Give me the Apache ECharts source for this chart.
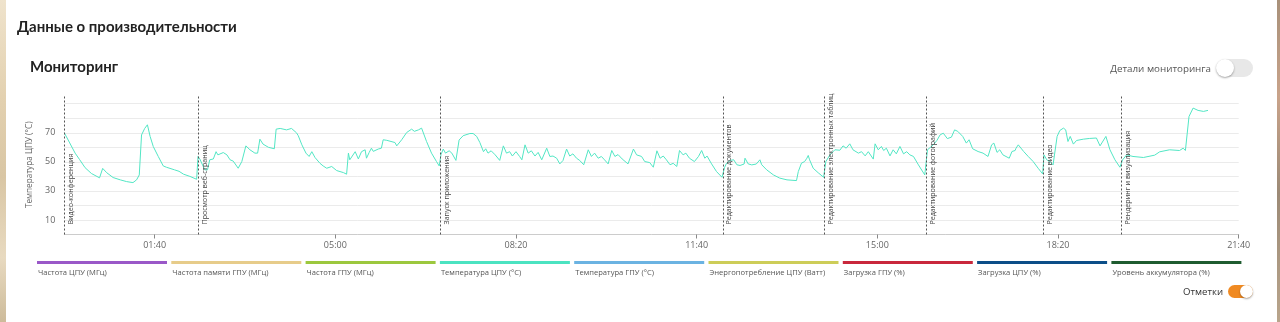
<!DOCTYPE html>
<html>
<head>
<meta charset="utf-8">
<script src="https://cdn.jsdelivr.net/npm/echarts@6/dist/echarts.min.js"></script>
<style>
  html, body { margin: 0; padding: 0; background: #fff; }
  #wrap { position: relative; width: 1280px; height: 322px; overflow: hidden; background: #fff; font-family: Lato, "Open Sans", sans-serif; }
  #leftStrip { position: absolute; left: 0; top: 0; width: 6px; height: 322px; background: linear-gradient(180deg, #efe3cc 0%, #e3d1b0 30%, #d9c6a4 55%, #e8dac0 80%, #cdbb9a 100%); }
  #rightStrip { position: absolute; right: 0; top: 0; width: 3px; height: 322px; background: linear-gradient(180deg, #a8917a 0%, #c9a38a 30%, #9c8a76 60%, #b9a58c 100%); }
  #chart { position: absolute; left: 0; top: 0; width: 1280px; height: 322px; }
  .t1 { position: absolute; left: 17px; top: 17px; font-size: 15px; font-weight: 700; color: #222; white-space: nowrap; }
  .t2 { position: absolute; left: 30px; top: 57px; font-size: 15px; font-weight: 700; color: #222; white-space: nowrap; }
  .lbl { position: absolute; font-size: 10px; color: #555; white-space: nowrap; font-family: "Open Sans", Roboto, sans-serif; }
  .sw { position: absolute; border-radius: 10px; }
  .knob { position: absolute; border-radius: 50%; background: #fff; box-shadow: 0 1px 2px rgba(0,0,0,0.35); }
</style>
</head>
<body>
<div id="wrap">
  <div id="chart"></div>
  <div id="leftStrip"></div>
  <div id="rightStrip"></div>
  <div class="t1">Данные о производительности</div>
  <div class="t2">Мониторинг</div>
  <div class="lbl" style="right:69px; top:62px; font-size:9.8px;">Детали мониторинга</div>
  <div class="sw" style="left:1216px; top:59px; width:37px; height:18px; background:#e8e8e8;">
    <div class="knob" style="left:0px; top:0px; width:18px; height:18px;"></div>
  </div>
  <div class="lbl" style="right:57px; top:285px; font-size:9.6px; color:#333;">Отметки</div>
  <div class="sw" style="left:1228px; top:285px; width:25px; height:13px; background:#f08a22;">
    <div class="knob" style="left:12px; top:0px; width:13px; height:13px;"></div>
  </div>
</div>
<script>
// ---- data ----
var seriesName = 'Температура ЦПУ (°C)';
var timeMinutes = [
  0,1.5,6,12,17,23,30,39,41,42.5,47,54,62,69,76,80,83,85.5,89,92,95,98.5,104,109.5,113,122,127,132,139,146.5,
  148,150,155.5,158.5,161,165,168,170,176,180,183.5,187,192.5,196.5,198,201,205.5,211,214,216.5,220,226,232.5,234.5,239,246,248,251.5,257,259,263,267.5,271,274,277.5,283,286.5,290.5,296,301.5,309,312.5,314.5,316,318,322,323.5,325.5,329,333,334.5,337.5,340,342,347.5,351,353,357,366,368,370,373.5,379,384.5,387.5,392,395.5,397.5,401,406.5,412,415,
  417,419.5,422,426,429,433.5,437,441.5,449,452.5,456.5,460,464,466.5,469,472.5,477,482,486,489.5,493,496,500,504,506.5,510,513.5,517,521,524.5,528.5,534,537.5,541,545,548.5,552,556,559.5,563,567,570.5,575,580,583.5,587,591,594.5,598,602,606,609.5,613,617.5,624,630,633.5,639,642.5,648,652,656,659.5,663,666.5,670.5,674,678,681,685,688,692,697.5,702,705.5,709,711.5,716.5,722,728,
  729.5,731,733,737,741,744.5,748,752.5,753.5,757,761,766,770,772,777.5,785,792,800,810.5,812.5,816,819.5,822,823.5,825,829,834.5,840.5,
  843,847.5,853,858.5,862,865.5,869.5,873,879,882.5,886.5,890,895.5,897.5,901,904.5,907,910,914,917.5,921,925,929,932.5,936,940,945.5,952.5,
  955.5,962,966,969.5,973,977.5,982,985.5,989,991,994.5,998.5,1001.5,1005.5,1011.5,1017,1022.5,1026.5,1029,1032.5,1035.5,1039,1046,1049,1052.5,1053.5,1056,1058,1062,1067,1072.5,1078,1083,
  1084.5,1087.5,1091,1094.5,1096.5,1099,1102,1106,1108.5,1111,1113.5,1117,1120.5,1128,1135,1142.5,1146.5,1153,1157.5,1163,1168.5,
  1171.5,1176,1183,1194.5,1207,1212.5,1223.5,1234.5,1238.5,1241,1245,1249.5,1255,1261,1266
];
var cpuTemp = [
  70,71,63,56,51.5,46,42,39,38.7,45.5,42.5,39.2,37.6,36.4,35.7,37.6,41,68.5,73,75.5,67.5,60.5,53.7,47.2,46.3,44.5,43.5,41.5,40,38,
  53.7,52,44.5,44.5,51.4,52,57,54.8,56.4,54.8,51.4,50.5,45.6,50.2,49.5,61,58.3,56,56,65.6,62.2,60,59,72.5,73,72,73,73,70,68,61.7,56,53.7,57,53,49,47.2,45.6,46.8,44,42.6,41.5,56,51.4,51,57,57.6,52,57,58.3,52.5,56.5,59.4,57.2,58.8,59.4,65.2,64.8,63.3,61,61.7,65.2,70.2,72.5,71,72,73.2,72,64,56,50.2,47.2,
  55,58.8,56,57.6,56,51,65,68,69.5,69.5,67.5,63.3,57,59,56,57.6,54.8,51,61,56,57,54,57,53.7,51.4,61.7,56,57.6,54,56.5,51.4,59.4,53.7,54,52.5,48.6,50.9,58.8,54,55.5,52.5,51,48,58.3,53.7,56,52.5,53.7,51.4,48.6,57.8,53.7,55,52,48.6,58.8,54.8,53.7,50.2,49.5,46.3,57.6,52.5,54,51.4,48,49,46.8,57.8,54.8,56,52.5,50.2,53.7,57.8,52.5,54,48.6,43.3,39.4,
  40,46.3,49,51,51.4,48,47.5,48.5,52.5,48.6,47.9,48.5,51.4,48,44.5,41,38.8,37.6,37.1,43.3,49.1,50.2,52.5,54.4,51.4,45.6,42.5,39.4,
  50.2,54.8,58.3,58,61,59.4,62.4,58.3,56,57,54.1,57,51.9,62.4,58.3,60.6,57.8,59.4,54.1,58.3,55.5,60.6,55.5,57,54.8,53.7,47.9,41,
  58.3,61.7,64.8,68.6,69.7,66,67,72,71,69.7,67.5,62.9,65.2,59,57.1,56,53.7,61.7,62.9,56.5,58.3,54.8,52.5,57.1,57.8,59.4,61.7,60.6,57.1,53.7,50.2,45.6,41.7,
  54.8,51.4,50.2,47.9,46.8,67.5,71.6,73.2,72,64,67.5,62.2,64.7,65.6,66.1,66.4,61,67.5,58.3,51.4,46.3,
  51.4,54.8,53.7,53,54.6,56.9,58.3,57.8,59.4,57.8,81.2,87,85.4,84.7,85.4
];
var markerTimes = [0, 148, 416, 729, 841, 954, 1084, 1170];
var markerNames = ['Видео-конференция','Просмотр веб-страниц','Запуск приложения','Редактирование документов','Редактирование электронных таблиц','Редактирование фотографий','Редактирование видео','Рендеринг и визуализация'];
var xTickValues = [100, 300, 500, 700, 900, 1100, 1300];
var yTickValues = [10, 30, 50, 70];
var legendNames = ['Частота ЦПУ (МГц)','Частота памяти ГПУ (МГц)','Частота ГПУ (МГц)','Температура ЦПУ (°C)','Температура ГПУ (°C)','Энергопотребление ЦПУ (Ватт)','Загрузка ГПУ (%)','Загрузка ЦПУ (%)','Уровень аккумулятора (%)'];
var legendColors = ['#9a58c8','#e7cc8a','#9cc83e','#4be3c1','#6bb3e2','#cdcd58','#c9283c','#0c4e88','#1f5c30'];

// ---- build ----
var points = timeMinutes.map(function (t, i) { return [t, cpuTemp[i]]; });
function fmtTime(v) {
  var h = Math.floor(v / 60), m = Math.round(v % 60);
  return (h < 10 ? '0' : '') + h + ':' + (m < 10 ? '0' : '') + m;
}
var legendGraphics = [];
legendNames.forEach(function (n, i) {
  var x = 37 + i * 134.3;
  legendGraphics.push({ type: 'rect', left: x, top: 261, shape: { width: 130, height: 3 }, style: { fill: legendColors[i] }, silent: true });
  legendGraphics.push({ type: 'text', left: x + 1, top: 269, style: { text: n, fill: '#555', font: '7.6px "Open Sans", Roboto, sans-serif' }, silent: true });
});

var chart = echarts.init(document.getElementById('chart'), null, { renderer: 'canvas' });
chart.setOption({
  animation: false,
  textStyle: { fontFamily: '"Open Sans", Roboto, sans-serif' },
  grid: { left: 64.3, right: 41.3, top: 95, bottom: 87.5, containLabel: false },
  xAxis: {
    type: 'value', min: 0, max: 1300,
    axisLine: { show: true, lineStyle: { color: '#cccccc', width: 1 } },
    axisTick: { show: true, customValues: xTickValues, length: 4, lineStyle: { color: '#888' } },
    axisLabel: { customValues: xTickValues, formatter: fmtTime, color: '#666', fontSize: 9, margin: 6 },
    splitLine: { show: false }
  },
  yAxis: {
    type: 'value', min: 0, max: 96, interval: 10,
    name: seriesName, nameLocation: 'middle', nameGap: 27,
    nameTextStyle: { color: '#666', fontSize: 8.2 },
    axisLine: { show: false },
    axisTick: { show: false },
    axisLabel: {
      color: '#666', fontSize: 9, margin: 9,
      formatter: function (v) { return yTickValues.indexOf(v) >= 0 ? String(v) : ''; }
    },
    splitLine: { show: true, showMaxLine: false, lineStyle: { color: '#ebebeb', width: 1 } }
  },
  series: [{
    name: seriesName,
    type: 'line',
    data: points,
    showSymbol: false,
    symbol: 'none',
    lineStyle: { color: '#52e6c4', width: 1 },
    itemStyle: { color: '#52e6c4' },
    markLine: {
      silent: true,
      symbol: ['none', 'none'],
      lineStyle: { color: '#555', type: [2, 2], width: 1 },
      label: { show: true, position: 'insideStartBottom', formatter: '{b}', color: '#444', fontSize: 7.1, distance: 3, padding: [0, 0, 0, 7] },
      emphasis: { disabled: true },
      data: markerTimes.map(function (t, i) { return { xAxis: t, name: markerNames[i] }; })
    }
  }],
  graphic: legendGraphics
});
</script>
</body>
</html>
